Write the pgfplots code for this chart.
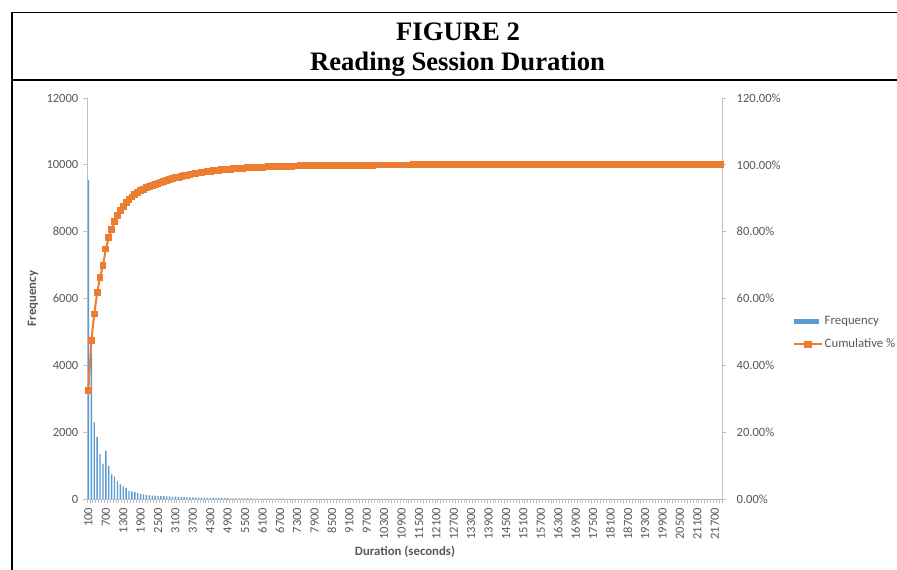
\documentclass[border=0pt]{standalone}
\usepackage{pgfplots}
\pgfplotsset{compat=1.18}
\usepackage{pgfplotstable}
\usepackage{fontspec}
\setmainfont{Carlito}
\newfontfamily\titlefont{Liberation Serif}
\definecolor{barblue}{HTML}{5B9BD5}
\definecolor{lineorange}{HTML}{ED7D31}
\definecolor{ticktext}{HTML}{595959}
\definecolor{axisgray}{HTML}{BFBFBF}

% bin index i (bin i = duration 100*i seconds), frequency f, cumulative percent c
\pgfplotstableread{
i f c
1 9550 32.59
2 4380 47.54
3 2290 55.36
4 1850 61.67
5 1350 66.28
6 1060 69.90
7 1440 74.81
8 1000 78.23
9 740 80.75
10 670 83.04
11 530 84.85
12 440 86.35
13 380 87.65
14 335 88.79
15 245 89.62
16 225 90.39
17 210 91.11
18 180 91.72
19 152 92.24
20 137 92.71
21 120 93.12
22 111 93.50
23 104 93.85
24 98 94.19
25 92 94.50
26 87 94.80
27 83 95.08
28 79 95.35
29 76 95.61
30 73 95.86
31 70 96.10
32 66 96.32
33 62 96.54
34 58 96.73
35 55 96.92
36 52 97.10
37 49 97.27
38 46 97.42
39 44 97.57
40 41 97.71
41 39 97.85
42 36 97.97
43 34 98.09
44 32 98.19
45 30 98.30
46 29 98.40
47 27 98.49
48 25 98.57
49 24 98.66
50 22 98.73
51 21 98.80
52 20 98.87
53 19 98.94
54 18 99.00
55 17 99.05
56 16 99.11
57 15 99.16
58 14 99.21
59 13 99.25
60 12 99.29
61 12 99.33
62 11 99.37
63 10 99.41
64 10 99.44
65 9 99.47
66 9 99.50
67 8 99.53
68 8 99.56
69 7 99.58
70 7 99.60
71 6 99.62
72 6 99.65
73 6 99.67
74 5 99.68
75 5 99.70
76 5 99.72
77 4 99.73
78 4 99.74
79 4 99.76
80 4 99.77
81 3 99.78
82 3 99.79
83 3 99.80
84 3 99.81
85 3 99.82
86 3 99.83
87 2 99.84
88 2 99.85
89 2 99.85
90 2 99.86
91 2 99.87
92 2 99.87
93 2 99.88
94 2 99.89
95 2 99.89
96 2 99.90
97 2 99.91
98 2 99.91
99 2 99.92
100 2 99.93
101 1 99.93
102 1 99.94
103 1 99.94
104 1 99.94
105 1 99.95
106 1 99.95
107 1 99.95
108 1 99.96
109 1 99.96
110 1 99.96
111 0 99.96
112 0 99.96
113 1 99.97
114 0 99.97
115 0 99.97
116 0 99.97
117 1 99.97
118 0 99.97
119 0 99.97
120 0 99.97
121 0 99.97
122 1 99.97
123 0 99.97
124 0 99.97
125 0 99.97
126 0 99.97
127 0 99.97
128 1 99.98
129 0 99.98
130 0 99.98
131 0 99.98
132 0 99.98
133 0 99.98
134 0 99.98
135 1 99.98
136 0 99.98
137 0 99.98
138 0 99.98
139 0 99.98
140 0 99.98
141 0 99.98
142 0 99.98
143 1 99.98
144 0 99.98
145 0 99.98
146 0 99.98
147 0 99.98
148 0 99.98
149 0 99.98
150 0 99.98
151 0 99.98
152 1 99.99
153 0 99.99
154 0 99.99
155 0 99.99
156 0 99.99
157 0 99.99
158 0 99.99
159 0 99.99
160 0 99.99
161 0 99.99
162 0 99.99
163 1 99.99
164 0 99.99
165 0 99.99
166 0 99.99
167 0 99.99
168 0 99.99
169 0 99.99
170 0 99.99
171 0 99.99
172 0 99.99
173 0 99.99
174 0 99.99
175 0 99.99
176 1 99.99
177 0 99.99
178 0 99.99
179 0 99.99
180 0 99.99
181 0 99.99
182 0 99.99
183 0 99.99
184 0 99.99
185 0 99.99
186 0 99.99
187 0 99.99
188 0 99.99
189 0 99.99
190 0 99.99
191 0 99.99
192 0 99.99
193 0 99.99
194 0 99.99
195 1 100.00
196 0 100.00
197 0 100.00
198 0 100.00
199 0 100.00
200 0 100.00
201 0 100.00
202 0 100.00
203 0 100.00
204 0 100.00
205 0 100.00
206 0 100.00
207 0 100.00
208 0 100.00
209 0 100.00
210 0 100.00
211 0 100.00
212 0 100.00
213 0 100.00
214 0 100.00
215 0 100.00
216 0 100.00
217 0 100.00
218 1 100.00
219 0 100.00
}\datatable

\begin{document}
\begin{tikzpicture}
\begin{scope}[x=0.75pt,y=-0.75pt]
  \fill[white] (0,0) rectangle (897,570);
  \useasboundingbox (0,0) rectangle (897,570);
  \draw[line width=1.1pt] (12,570) -- (12,12.5) -- (897,12.5);
  \draw[line width=1.1pt] (12,80) -- (897,80);
  \node[anchor=base, inner sep=0pt, font=\titlefont\bfseries\fontsize{20}{24}\selectfont] at (458,41) {FIGURE 2};
  \node[anchor=base, inner sep=0pt, font=\titlefont\bfseries\fontsize{20}{24}\selectfont] at (457.5,70.5) {Reading Session Duration};
\end{scope}

\begin{axis}[
  at={(65.25pt,-374.25pt)}, anchor=south west,
  scale only axis, width=476.25pt, height=300.75pt,
  xmin=0.5, xmax=219.5, ymin=0, ymax=12000,
  axis x line*=bottom, axis y line*=left,
  axis line style={draw=axisgray, line width=0.6pt, -},
  tick align=outside,
  major tick length=3pt, minor tick length=3pt,
  tick style={draw=axisgray, line width=0.6pt},
  xtick={1,7,...,217},
  xticklabels={100,700,1300,1900,2500,3100,3700,4300,4900,5500,6100,6700,7300,7900,8500,9100,9700,10300,10900,11500,12100,12700,13300,13900,14500,15100,15700,16300,16900,17500,18100,18700,19300,19900,20500,21100,21700},
  every major x tick/.append style={draw=none},
  minor xtick={0.5,1.5,...,219.5},
  ytick={0,2000,4000,6000,8000,10000,12000},
  yticklabels={0,2000,4000,6000,8000,10000,12000},
  scaled ticks=false,
  ticklabel style={font=\fontsize{9.4}{10}\selectfont, text=ticktext},
  x tick label style={rotate=90, anchor=east},
  ylabel={\textbf{Frequency}},
  xlabel={\textbf{Duration (seconds)}},
  label style={font=\fontsize{9.6}{10}\selectfont, text=ticktext},
  ylabel style={at={(axis description cs:-0.085,0.5)}, anchor=center},
  xlabel style={at={(axis description cs:0.5008,-0.132)}, anchor=center},
  clip=false,
]
\addplot[ybar, bar width=0.48, fill=barblue, draw=none] table[x=i, y=f]{\datatable};
\end{axis}

\begin{axis}[
  at={(65.25pt,-374.25pt)}, anchor=south west,
  scale only axis, width=476.25pt, height=300.75pt,
  xmin=0.5, xmax=219.5, ymin=0, ymax=120,
  axis x line=none, axis y line*=right,
  axis line style={draw=axisgray, line width=0.6pt, -},
  tick align=outside,
  major tick length=3pt,
  tick style={draw=axisgray, line width=0.6pt},
  ytick={0,20,40,60,80,100,120},
  yticklabels={0.00\%,20.00\%,40.00\%,60.00\%,80.00\%,100.00\%,120.00\%},
  ticklabel style={font=\fontsize{9.4}{10}\selectfont, text=ticktext},
  yticklabel style={xshift=4.5pt},
  legend style={at={(axis description cs:1.112,0.46)}, anchor=north west,
    draw=none, fill=none, inner sep=0pt, row sep=7.5pt,
    font=\fontsize{9.6}{10}\selectfont, text=ticktext,
    nodes={inner sep=1pt}},
  legend cell align=left,
  clip=false,
]
\addlegendimage{legend image code/.code={\fill[barblue] (0pt,-1.7pt) rectangle (18pt,1.7pt);}}
\addlegendentry{Frequency}
\addplot[lineorange, line width=1.5pt, mark=square*, mark size=2.2pt, mark options={solid, fill=lineorange, draw=lineorange, line width=0pt},
  legend image code/.code={\draw[lineorange, line width=1.5pt] (0pt,0pt) -- (21pt,0pt); \fill[lineorange] (8.3pt,-2.2pt) rectangle (12.7pt,2.2pt);}]
  table[x=i, y=c]{\datatable};
\addlegendentry{Cumulative \%}
\end{axis}
\end{tikzpicture}
\end{document}
